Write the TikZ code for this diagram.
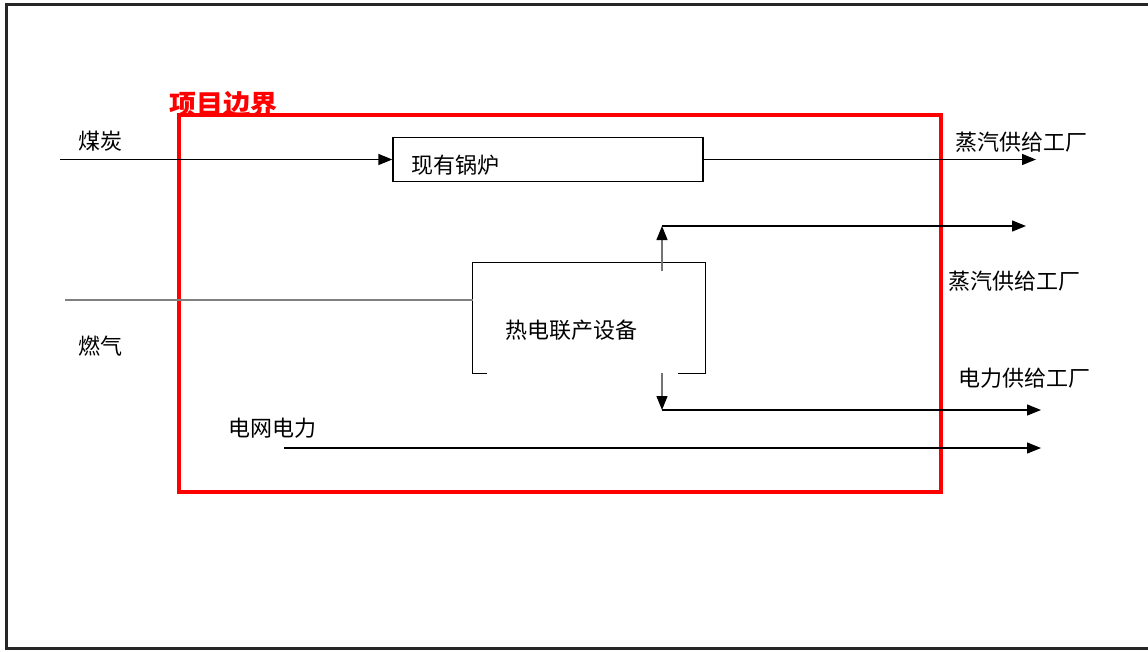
\documentclass[tikz,border=0pt]{standalone}
\usepackage{fontspec}
\setmainfont{Noto Sans CJK SC}
\usetikzlibrary{arrows.meta}
\begin{document}
\begin{tikzpicture}[x=1pt,y=-1pt,
  lbl/.style={anchor=west,inner sep=0pt,font=\fontsize{22}{24}\selectfont},
  flow/.style={line width=1.3pt,-{Triangle[length=14pt,width=11pt]}},
  grayflow/.style={line width=1.3pt,draw=black!55,-{Triangle[length=14pt,width=11pt,color=black,fill=black]}},
  boxline/.style={line width=1.3pt}]
\useasboundingbox (0,0) rectangle (1148,651);
\fill[white] (0,0) rectangle (1148,651);
% outer frame
\draw[line width=3pt,black!85] (1148,4.5) -- (6.5,4.5) -- (6.5,648.5) -- (1148,648.5);
% project boundary
\draw[red,line width=4pt] (179,115) rectangle (941,492);
\node[lbl,text=red,font=\fontsize{27}{29}\selectfont\bfseries] (bound) at (169,104) {项目边界};
% boiler
\node[draw,boxline,minimum width=310pt,minimum height=44pt,inner sep=0pt] (boiler) at (548,159.5) {};
\node[lbl] (boilertxt) at (411,165) {现有锅炉};
\coordinate (coalin) at (60,159.5);
\node[lbl] (coal) at (78,141) {煤炭};
\draw[flow] (coalin) -- (boiler.west);
\coordinate (steam1) at (1036,159.5);
\draw[flow] (boiler.east) -- (steam1);
\node[lbl] (steam1lbl) at (955,142) {蒸汽供给工厂};
% CHP
\node[minimum width=232pt,minimum height=110pt,inner sep=0pt] (chp) at (589,318) {};
\draw[boxline] ([xshift=14pt]chp.south west) -- (chp.south west) -- (chp.north west) -- (chp.north east) -- (chp.south east) -- ([xshift=-27pt]chp.south east);
\node[lbl] (chptxt) at (505,330) {热电联产设备};
\coordinate (gasin) at (65,300);
\node[lbl] (gas) at (78,346) {燃气};
\draw[line width=2pt,black!50] (gasin) -- (gasin -| chp.west);
% steam from CHP
\coordinate (upstart) at (662,271);
\coordinate (upcorner) at (662,226);
\coordinate (steam2) at (1026,226);
\draw[grayflow] (upstart) -- (upcorner);
\draw[flow] (upcorner) -- (steam2);
\node[lbl] (steam2lbl) at (948,281) {蒸汽供给工厂};
% power from CHP
\coordinate (downstart) at (662,373);
\coordinate (downcorner) at (662,410);
\coordinate (power1) at (1041,410);
\draw[grayflow] (downstart) -- (downcorner);
\draw[flow] (downcorner) -- (power1);
\node[lbl] (power1lbl) at (958,378) {电力供给工厂};
% grid power
\coordinate (gridin) at (284,448);
\coordinate (power2) at (1041,448);
\node[lbl] (grid) at (228,428) {电网电力};
\draw[flow] (gridin) -- (power2);
\end{tikzpicture}
\end{document}
